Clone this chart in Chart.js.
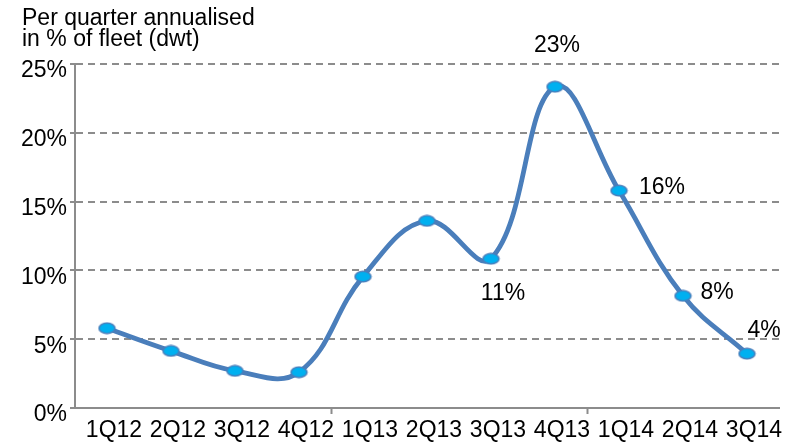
<!DOCTYPE html>
<html>
<head>
<meta charset="utf-8">
<script src="https://cdn.jsdelivr.net/npm/chart.js@4.4.1/dist/chart.umd.min.js"></script>
<style>
  html, body { margin: 0; padding: 0; background: #fff; }
  #wrap { width: 794px; height: 445px; }
</style>
</head>
<body>
<div id="wrap"><canvas id="fleetChart" width="794" height="445"></canvas></div>
<script>
var quarters = ['1Q12', '2Q12', '3Q12', '4Q12', '1Q13', '2Q13', '3Q13', '4Q13', '1Q14', '2Q14', '3Q14'];
var fleetGrowth = [5.8, 4.15, 2.7, 2.6, 9.55, 13.6, 10.85, 23.35, 15.8, 8.15, 3.95];
var yTicks = [0, 5, 10, 15, 20, 25];
var labelledPoints = [6, 7, 8, 9, 10];
var yearStarts = [4, 8];
var titleLines = ['Per quarter annualised', 'in % of fleet (dwt)'];

var FONT = '"Liberation Sans", Arial, sans-serif';
var GREY = '#8c8c8c';

// ellipse marker like the excel one
function makeMarker() {
    var c = document.createElement('canvas');
    c.width = 19;
    c.height = 13;
    var g = c.getContext('2d');
    g.beginPath();
    g.ellipse(9.5, 6.5, 8, 5.2, 0, 0, Math.PI * 2);
    g.fillStyle = '#00b0f0';
    g.fill();
    g.lineWidth = 1.5;
    g.strokeStyle = '#4a7ebb';
    g.stroke();
    return c;
}

var valueLabels = {
    id: 'valueLabels',
    afterDatasetsDraw: function(chart) {
        var ctx = chart.ctx;
        var meta = chart.getDatasetMeta(0);
        // offset of each label from its point
        var place = {6: [12, 35], 7: [2, -41], 8: [43, -3], 9: [34, -3], 10: [17, -23]};
        ctx.save();
        ctx.font = '23px ' + FONT;
        ctx.fillStyle = '#000';
        ctx.textAlign = 'center';
        ctx.textBaseline = 'middle';
        labelledPoints.forEach(function(i) {
            var p = meta.data[i];
            ctx.fillText(Math.round(fleetGrowth[i]) + '%', p.x + place[i][0], p.y + place[i][1]);
        });
        ctx.restore();
    }
};

var unitTitle = {
    id: 'unitTitle',
    afterDraw: function(chart) {
        var ctx = chart.ctx;
        ctx.save();
        ctx.font = '23px ' + FONT;
        ctx.fillStyle = '#000';
        ctx.textAlign = 'left';
        ctx.textBaseline = 'alphabetic';
        ctx.fillText(titleLines[0], 22, 25);
        ctx.fillText(titleLines[1], 22, 46);
        ctx.restore();
    }
};

var ctx = document.getElementById('fleetChart').getContext('2d');
var chart = new Chart(ctx, {
    type: 'line',
    data: {
        labels: quarters,
        datasets: [{
            data: fleetGrowth,
            borderColor: '#4a7ebb',
            borderWidth: 4.8,
            tension: 0.4,
            fill: false,
            pointStyle: makeMarker(),
            pointRadius: 6
        }]
    },
    options: {
        responsive: false,
        animation: false,
        events: [],
        layout: { padding: { top: 64, right: 15, bottom: 0, left: 0 } },
        plugins: {
            legend: { display: false },
            tooltip: { enabled: false }
        },
        scales: {
            x: {
                offset: true,
                grid: {
                    offset: true,
                    drawOnChartArea: false,
                    tickLength: 6,
                    tickWidth: 2,
                    tickColor: function(c) {
                        return yearStarts.indexOf(c.index) >= 0 ? GREY : 'rgba(0,0,0,0)';
                    }
                },
                border: { color: GREY, width: 2 },
                ticks: {
                    color: '#000',
                    font: { family: FONT, size: 23 },
                    padding: 3,
                    labelOffset: 7,
                    maxRotation: 0,
                    autoSkip: false
                },
                afterFit: function(s) { s.height = 37; }
            },
            y: {
                min: 0,
                max: 25,
                afterBuildTicks: function(s) {
                    s.ticks = yTicks.map(function(v) { return { value: v }; });
                },
                grid: {
                    color: function(c) {
                        return c.tick && c.tick.value === 0 ? 'rgba(0,0,0,0)' : GREY;
                    },
                    lineWidth: 2,
                    tickLength: 5,
                    tickWidth: 2,
                    tickColor: GREY
                },
                border: { color: GREY, width: 2, dash: [7, 5] },
                ticks: {
                    color: '#000',
                    font: { family: FONT, size: 23 },
                    padding: 3,
                    labelOffset: 7,
                    callback: function(v) { return v + '%'; }
                },
                afterFit: function(s) { s.width = 75; }
            }
        }
    },
    plugins: [valueLabels, unitTitle]
});
</script>
</body>
</html>
